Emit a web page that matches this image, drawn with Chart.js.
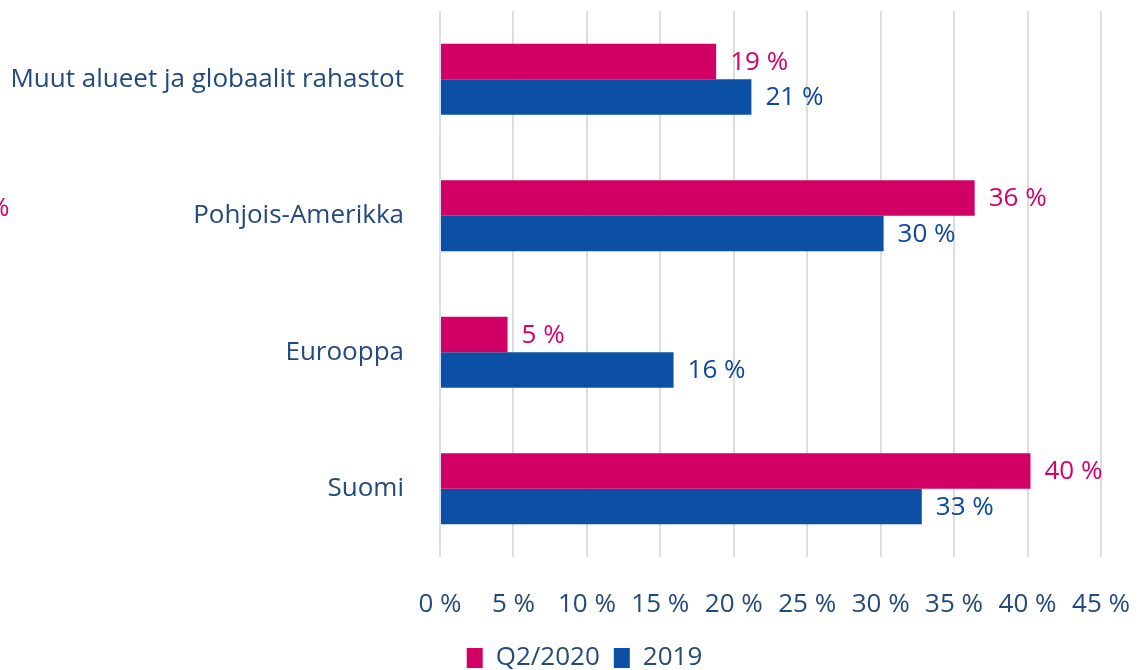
<!DOCTYPE html>
<html>
<head>
<meta charset="utf-8">
<script src="https://cdn.jsdelivr.net/npm/chart.js@4/dist/chart.umd.min.js"></script>
<style>
  html, body { margin: 0; padding: 0; background: #fff; }
  #wrap { position: relative; width: 1138px; height: 670px; overflow: hidden; }
  #cut { position: absolute; left: -12px; top: 188px; font: 26px "Open Sans", sans-serif; color: #d6006a; }
</style>
</head>
<body>
<div id="wrap">
  <canvas id="chart" width="1138" height="670"></canvas>
  <span id="cut">%</span>
</div>
<script>
// Datos
const categorias = ['Muut alueet ja globaalit rahastot', 'Pohjois-Amerikka', 'Eurooppa', 'Suomi'];
const serieQ2 = [18.8, 36.4, 4.6, 40.2];
const serie2019 = [21.2, 30.2, 15.9, 32.8];
const etiquetasSerie = ['Q2/2020', '2019'];
const ticksX = [0, 5, 10, 15, 20, 25, 30, 35, 40, 45];

const ROSA = '#d20065';
const AZUL = '#0b50a5';
const TEXTO = '#224a7c';
const FUENTE = '"Open Sans", sans-serif';

// Etiquetas de valor al final de cada barra
const valorPlugin = {
    id: 'valores',
    afterLayout(chart) {
        // desplazar la leyenda hacia la derecha como en el original
        if (chart.legend) {
            chart.legend.left += 34;
            chart.legend.right += 34;
        }
    },
    afterDatasetsDraw(chart) {
        const ctx = chart.ctx;
        ctx.save();
        ctx.font = '26px ' + FUENTE;
        ctx.textBaseline = 'middle';
        ctx.textAlign = 'left';
        chart.data.datasets.forEach((ds, i) => {
            const meta = chart.getDatasetMeta(i);
            ctx.fillStyle = i === 0 ? '#d6006a' : '#0e47a0';
            meta.data.forEach((bar, j) => {
                ctx.fillText(Math.round(ds.data[j]) + ' %', bar.x + 14, bar.y + 1);
            });
        });
        ctx.restore();
    }
};

new Chart(document.getElementById('chart').getContext('2d'), {
    type: 'bar',
    data: {
        labels: categorias,
        datasets: [
            { label: etiquetasSerie[0], data: serieQ2, backgroundColor: ROSA, borderWidth: 0 },
            { label: etiquetasSerie[1], data: serie2019, backgroundColor: AZUL, borderWidth: 0 }
        ]
    },
    options: {
        indexAxis: 'y',
        responsive: false,
        animation: false,
        datasets: { bar: { categoryPercentage: 0.52, barPercentage: 1 } },
        layout: { padding: { top: 11, right: 37, left: 0, bottom: -11 } },
        scales: {
            x: {
                min: 0,
                max: 45,
                afterBuildTicks: s => { s.ticks = ticksX.map(v => ({ value: v })); },
                afterFit: s => { s.height = 74; s.paddingLeft = 0; s.paddingRight = 0; },
                ticks: {
                    callback: v => v + ' %',
                    font: { family: FUENTE, size: 26 },
                    color: TEXTO,
                    padding: 32,
                    maxRotation: 0
                },
                grid: {
                    color: ctx => ctx.index === 0 ? '#d3def2' : '#dddddd',
                    lineWidth: 2,
                    drawTicks: false
                },
                border: { display: false }
            },
            y: {
                afterFit: s => { s.width = 440; s.paddingTop = 0; s.paddingBottom = 0; },
                ticks: {
                    font: { family: FUENTE, size: 26 },
                    color: TEXTO,
                    padding: 28
                },
                grid: { display: false },
                border: { display: false }
            }
        },
        plugins: {
            legend: {
                position: 'bottom',
                labels: {
                    font: { family: FUENTE, size: 26 },
                    color: TEXTO,
                    boxWidth: 16,
                    boxHeight: 20,
                    padding: 14
                }
            },
            tooltip: { enabled: false }
        }
    },
    plugins: [valorPlugin]
});
</script>
</body>
</html>
